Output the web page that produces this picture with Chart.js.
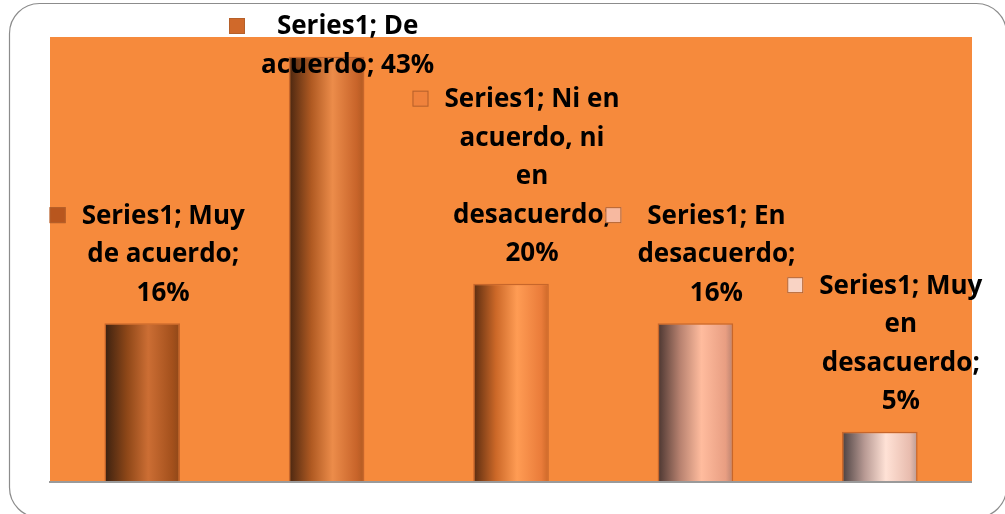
<!DOCTYPE html>
<html>
<head>
<meta charset="utf-8">
<script src="https://cdn.jsdelivr.net/npm/chart.js@4"></script>
<style>
  html, body { margin: 0; padding: 0; background: #ffffff; }
  #wrap { position: relative; width: 1005px; height: 514px; }
</style>
</head>
<body>
<div id="wrap"><canvas id="chart" width="1005" height="514"></canvas></div>
<script>
const seriesName = "Series1";
const categories = ["Muy de acuerdo", "De acuerdo", "Ni en acuerdo, ni en desacuerdo", "En desacuerdo", "Muy en desacuerdo"];
const values = [16, 43, 20, 16, 5];
const yMax = 45;
// data label text, wrapped the way the original shows it
const labelLines = [
  ["Series1; Muy", "de acuerdo;", "16%"],
  ["Series1; De", "acuerdo; 43%"],
  ["Series1; Ni en", "acuerdo, ni", "en", "desacuerdo;", "20%"],
  ["Series1; En", "desacuerdo;", "16%"],
  ["Series1; Muy", "en", "desacuerdo;", "5%"]
];
const barShades = [
  { dark: "#3a2010", mid: "#8e4718", light: "#cc6e34", edge: "#a3501c", key: "#b8561e" },
  { dark: "#4a2610", mid: "#b05a22", light: "#ec8c4a", edge: "#c8642a", key: "#d0692a" },
  { dark: "#5a2c10", mid: "#cc6828", light: "#ff9c54", edge: "#ea7c3a", key: "#f0823c" },
  { dark: "#4a3530", mid: "#b88270", light: "#ffbc9e", edge: "#e89e82", key: "#f7b9a0" },
  { dark: "#4a4040", mid: "#b89a94", light: "#ffe2d6", edge: "#e8bcae", key: "#f9d3c4" }
];
const plotBg = "#f68a3c";
const barPct = 0.41;

const labelFont = "bold 26px 'Open Sans'";
const lineH = 38.5;

const bgPlugin = {
  id: "bg",
  beforeDraw(chart) {
    const { ctx, chartArea: a } = chart;
    ctx.save();
    ctx.fillStyle = "#ffffff";
    ctx.fillRect(0, 0, chart.width, chart.height);
    // outer rounded frame
    ctx.strokeStyle = "#8c8c8c";
    ctx.lineWidth = 1.2;
    ctx.beginPath();
    ctx.roundRect(9.5, 3.5, 997, 514, 30);
    ctx.stroke();
    ctx.fillStyle = plotBg;
    ctx.fillRect(a.left, a.top, a.right - a.left, a.bottom - a.top);
    ctx.restore();
  },
  afterDatasetsDraw(chart) {
    const { ctx, chartArea: a } = chart;
    ctx.save();
    ctx.strokeStyle = "#9a9a9a";
    ctx.lineWidth = 2;
    ctx.beginPath();
    ctx.moveTo(a.left - 1, a.bottom + 1);
    ctx.lineTo(a.right, a.bottom + 1);
    ctx.stroke();

    const meta = chart.getDatasetMeta(0);
    ctx.font = labelFont;
    ctx.fillStyle = "#000000";
    ctx.textAlign = "center";
    ctx.textBaseline = "middle";
    meta.data.forEach((bar, i) => {
      const lines = labelLines[i];
      const cx = bar.x + 21;
      let firstY = bar.y - 30 - (lines.length - 1) * lineH;
      if (firstY < 27) firstY = 27;
      let widest = 0;
      lines.forEach((t) => { widest = Math.max(widest, ctx.measureText(t).width); });
      lines.forEach((t, k) => ctx.fillText(t, cx, firstY + k * lineH));
      // legend key square
      const kx = cx - widest / 2 - 32;
      ctx.fillStyle = barShades[i].key;
      ctx.fillRect(kx, firstY - 9, 16, 16);
      ctx.strokeStyle = "#b5602a";
      ctx.lineWidth = 1;
      ctx.strokeRect(kx + 0.5, firstY - 8.5, 15, 15);
      ctx.fillStyle = "#000000";
    });
    ctx.restore();
  }
};

const barFill = (c) => {
  const chart = c.chart;
  const xs = chart.scales.x;
  const shade = barShades[c.dataIndex];
  if (!xs || !chart.chartArea) return shade.key;
  const cx = xs.getPixelForValue(c.dataIndex);
  const w = (xs.width / categories.length) * barPct;
  const g = chart.ctx.createLinearGradient(cx - w / 2, 0, cx + w / 2, 0);
  g.addColorStop(0, shade.dark);
  g.addColorStop(0.3, shade.mid);
  g.addColorStop(0.58, shade.light);
  g.addColorStop(0.9, shade.edge);
  g.addColorStop(1, shade.mid);
  return g;
};

new Chart(document.getElementById("chart"), {
  type: "bar",
  data: {
    labels: categories,
    datasets: [{
      label: seriesName,
      data: values,
      backgroundColor: barFill,
      borderColor: "rgba(190,95,40,0.85)",
      borderWidth: 1.5,
      borderSkipped: "bottom",
      categoryPercentage: 1,
      barPercentage: barPct
    }]
  },
  options: {
    responsive: false,
    animation: false,
    layout: { padding: { left: 50, right: 33, top: 37, bottom: 33 } },
    plugins: { legend: { display: false }, title: { display: false }, tooltip: { enabled: false } },
    scales: {
      x: { display: false },
      y: { display: false, min: 0, max: yMax }
    }
  },
  plugins: [bgPlugin]
});
</script>
</body>
</html>
